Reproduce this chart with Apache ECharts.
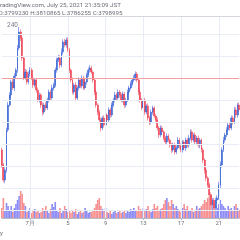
<!DOCTYPE html>
<html><head><meta charset="utf-8">
<script src="https://cdn.jsdelivr.net/npm/echarts@6/dist/echarts.min.js"></script>
<style>html,body{margin:0;padding:0;background:#fff;overflow:hidden}#c{width:240px;height:240px}</style>
</head><body><div id="c"></div>
<script>
// 4-hour candles, BTC/JPY, prices in thousand JPY, first candle 2021-06-28 00:00
const closes = [3405,3336,3382,3564,3677,3723,3782,3755,3809,3836,3936,4009,3982,3891,3800,3827,3782,3818,3836,3800,
3768,3791,3745,3700,3723,3677,3645,3677,3664,3700,3736,3709,3755,3768,3836,3882,3891,3859,3918,3964,
3950,3973,3927,3836,3791,3736,3768,3709,3755,3791,3764,3800,3755,3782,3814,3836,3845,3827,3791,3736,
3677,3645,3609,3573,3618,3586,3632,3609,3655,3632,3677,3700,3723,3709,3736,3723,3700,3727,3677,3700,
3736,3755,3773,3791,3800,3818,3791,3736,3700,3664,3700,3645,3673,3618,3600,3645,3664,3627,3609,3573,
3541,3573,3555,3527,3509,3536,3518,3495,3473,3495,3464,3482,3518,3491,3473,3509,3482,3518,3495,3527,
3555,3518,3541,3509,3527,3495,3518,3473,3427,3382,3345,3314,3268,3223,3245,3209,3245,3255,3314,3405,
3473,3518,3541,3564,3586,3573,3618,3600,3655,3632,3677,3655];
const opens = [3473,3405,3336,3382,3564,3677,3723,3782,3755,3809,3836,3936,4009,3982,3891,3800,3827,3782,3818,3836,
3800,3768,3791,3745,3700,3723,3677,3645,3677,3664,3700,3736,3709,3755,3768,3836,3882,3891,3859,3918,
3964,3950,3973,3927,3836,3791,3736,3768,3709,3755,3791,3764,3800,3755,3782,3814,3836,3845,3827,3791,
3736,3677,3645,3609,3573,3618,3586,3632,3609,3655,3632,3677,3700,3723,3709,3736,3723,3700,3727,3677,
3700,3736,3755,3773,3791,3800,3818,3791,3736,3700,3664,3700,3645,3673,3618,3600,3645,3664,3627,3609,
3573,3541,3573,3555,3527,3509,3536,3518,3495,3473,3495,3464,3482,3518,3491,3473,3509,3482,3518,3495,
3527,3555,3518,3541,3509,3527,3495,3518,3473,3427,3382,3345,3314,3268,3223,3245,3209,3245,3255,3314,
3405,3473,3518,3541,3564,3586,3573,3618,3600,3655,3632,3677];
// wick lengths above / below the body (thousand JPY)
const wickUp = [10,8,12,10,14,12,10,16,12,10,14,23,12,10,8,14,10,12,14,10,
12,8,10,12,10,8,12,10,14,10,12,10,14,10,12,10,14,12,16,12,
14,10,12,10,8,12,10,14,10,12,8,12,10,14,10,12,14,10,8,10,
12,8,10,12,10,12,10,8,12,10,12,10,14,10,12,10,8,12,10,10,
12,10,12,10,14,12,10,8,12,10,12,10,8,12,10,12,10,8,10,12,
10,12,10,8,10,12,10,8,10,12,10,12,14,10,12,10,8,12,10,14,
12,10,8,12,10,12,10,8,10,8,10,8,10,12,10,8,10,12,14,16,
12,14,10,12,14,10,12,10,14,12,10,12];
const wickDn = [12,10,14,12,10,8,12,10,14,10,12,10,14,12,10,8,12,10,12,10,
14,10,12,10,12,14,16,10,12,10,12,10,8,12,10,12,10,14,10,12,
10,12,10,14,12,10,12,14,10,12,10,12,10,8,12,10,12,10,12,14,
12,14,12,16,10,12,10,12,10,12,10,8,10,12,10,12,10,12,14,10,
10,12,10,8,10,12,10,14,12,10,12,14,10,12,14,10,12,10,14,12,
14,10,12,10,14,12,10,12,14,10,12,10,8,12,10,12,10,14,10,12,
10,12,10,12,10,12,14,12,14,16,14,12,14,16,18,14,32,12,10,14,
12,10,12,10,8,12,10,12,10,14,12,10];
// volume (BTC)
const volumes = [1000,2000,800,1500,1200, 800,1200,600,1000,1400,
1800,2200,2700,2400,1500,1200, 600,800,1000,500,700,900,600,800,500,
600,1000,800,1200,700,500,900,1400,1100,1600, 800,600,1000,500,700,1200,900,600,800,
500,700,600,900,400,600,800,500,600,1000,700,500,600, 600,800,1000,1400,1800,2000,1200,900,800,1000,
600,500,700,400,600,800,500,600,700, 500,600,800,500,700,600,900,800,1000,700,800,1200,900,
800,1000,700,900,1200,800,600,900,1400,1000,1200,800,900, 1000,1400,1800,2000,1600,1200,1800,1400,1000,1200,900,800,
600,1000,1400,900,1200,800,700,1000,600,800,1200,900,1000, 1200,1400,1800,1600,2000,2200,2400,2000,1600,1200,1000,1400,1800,
1400,1200,1000,800,1200,900,1000,800,1200,1400,1000,800];
const priceTicks = [3200,3300,3400,3500,3600,3700,3800,3900,4000];
const lastClose = 3798.995;
const tickDates = ['07-01','07-05','07-09','07-13','07-17','07-21'];
const tickLabels = ['7月','5','9','13','17','21'];

const categories = [];
const t0 = Date.UTC(2021,5,28,0);
for (let i=0;i<closes.length;i++){
  const d = new Date(t0 + i*4*3600*1000);
  const mm = String(d.getUTCMonth()+1).padStart(2,'0');
  const dd = String(d.getUTCDate()).padStart(2,'0');
  const hh = String(d.getUTCHours()).padStart(2,'0');
  categories.push(mm+'-'+dd+' '+hh);
}
const isTick = v => v.endsWith(' 00') && tickDates.includes(v.slice(0,5));

const UP='#3565d0', DN='#ee4152', UPW='#9aa4f0', DNW='#f49aa4', UPV='#8c8cf6', DNV='#f79090';
const wickData=[], bodyData=[], volData=[];
for (let i=0;i<closes.length;i++){
  const o=opens[i], c=closes[i];
  const lo=Math.min(o,c), hi=Math.max(o,c);
  wickData.push([o,c,lo-wickDn[i],hi+wickUp[i]]);
  bodyData.push([o,c,lo,hi]);
  volData.push({value:volumes[i], itemStyle:{color: c>=o?UPV:DNV}});
}

const chart = echarts.init(document.getElementById('c'), null, {renderer:'canvas'});
const FONT='Roboto';
chart.setOption({
  animation:false,
  textStyle:{fontFamily:FONT},
  grid:[
    {left:1.8, width:237.4, top:17, bottom:22},
    {left:1.8, width:237.4, top:178, bottom:22}
  ],
  xAxis:[
    {type:'category', gridIndex:0, data:categories, boundaryGap:false, show:false},
    {type:'category', gridIndex:1, data:categories, boundaryGap:false,
     axisLine:{lineStyle:{color:'#b7bac2',width:1}},
     axisTick:{show:true, length:2, interval:(i,v)=>isTick(v), lineStyle:{color:'#b7bac2'}},
     axisLabel:{interval:(i,v)=>isTick(v), formatter:v=>tickLabels[tickDates.indexOf(v.slice(0,5))],
       fontSize:6, color:'#6f727c', margin:2, fontFamily:FONT},
     splitLine:{show:false}}
  ],
  yAxis:[
    {type:'value', gridIndex:0, min:3163.6, max:4077.3, show:false, splitLine:{show:false}},
    {type:'value', gridIndex:1, min:0, max:4000, show:false, splitLine:{show:false}}
  ],
  series:[
    {type:'line', xAxisIndex:0, yAxisIndex:0, data:[], z:1, silent:true,
     markLine:{silent:true, symbol:['none','none'], label:{show:false}, animation:false,
       lineStyle:{color:'#e8ecf4', width:1, type:'solid'},
       data:[...priceTicks.map(v=>({yAxis:v})), ...tickDates.map(d=>({xAxis:d+' 00'}))]}},
    {type:'bar', xAxisIndex:1, yAxisIndex:1, data:volData, barWidth:1.6, z:2},
    {type:'candlestick', xAxisIndex:0, yAxisIndex:0, data:wickData, barWidth:1, z:3,
     itemStyle:{color:UPW, color0:DNW, borderColor:UPW, borderColor0:DNW, borderWidth:1}},
    {type:'candlestick', xAxisIndex:0, yAxisIndex:0, data:bodyData, barWidth:1.4, z:4,
     itemStyle:{color:UP, color0:DN, borderColor:UP, borderColor0:DN, borderWidth:0.5},
     markLine:{silent:true, symbol:['none','none'], label:{show:false},
       lineStyle:{color:'#f5a0a0', width:1, type:'solid'}, data:[{yAxis:lastClose}]}}
  ],
  graphic:[
    {type:'text', left:-3.5, top:2, style:{text:'TradingView.com, July 25, 2021 21:35:09 JST', fontSize:6.2, fill:'#6a6d78', fontFamily:FONT}},
    {type:'text', left:-1.5, top:10, style:{text:'O:3799230 H:3810865 L:3786255 C:3798995', fontSize:6.2, fill:'#6a6d78', fontFamily:FONT}},
    {type:'line', shape:{x1:0,y1:16.5,x2:240,y2:16.5}, style:{stroke:'#d4d7de', lineWidth:1}},
    {type:'text', left:7, top:22, style:{text:'240', fontSize:6.5, fill:'#7a7d87', fontFamily:FONT}},
    {type:'text', left:0, top:230, style:{text:'y', fontSize:6.2, fill:'#6a6d78', fontFamily:FONT}}
  ]
});
</script></body></html>
